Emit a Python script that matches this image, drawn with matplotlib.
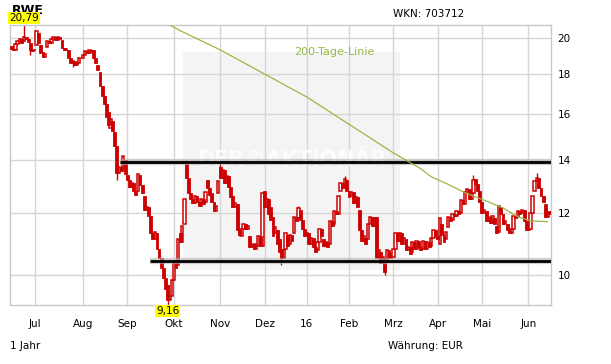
import matplotlib
matplotlib.use("Agg")
import matplotlib.pyplot as plt
import numpy as np
import pandas as pd
from matplotlib.patches import Rectangle
from matplotlib.ticker import FixedLocator, NullLocator

# trading calendar (Xetra), 16.06.2015 - 15.06.2016
first_day = "2015-06-16"
last_day = "2016-06-15"
holidays = ["2015-12-24", "2015-12-25", "2015-12-31", "2016-01-01",
            "2016-03-25", "2016-03-28"]
month_labels = ["Jul", "Aug", "Sep", "Okt", "Nov", "Dez", "16",
                "Feb", "Mrz", "Apr", "Mai", "Jun"]

opens = [
    19.55, 19.40, 19.35, 19.65, 19.80, 19.95, 19.85, 20.10, 19.95, 19.70,
    19.30, 19.30, 19.60, 20.30, 19.60, 19.20, 18.95, 19.50, 19.85, 19.70,
    19.95, 20.05, 19.90, 20.10, 19.90, 19.45, 19.30, 19.30, 18.85, 18.60,
    18.70, 18.50, 18.60, 18.90, 18.85, 19.05, 19.25, 19.15, 19.35, 19.30,
    18.90, 18.50, 18.10, 17.40, 16.90, 16.50, 16.10, 15.40, 15.70, 15.20,
    14.60, 13.50, 13.70, 13.70, 14.00, 13.40, 13.20, 12.95, 13.10, 12.80,
    12.80, 13.40, 13.00, 12.60, 12.10, 12.20, 11.90, 11.30, 11.10, 11.30,
    10.80, 10.50, 10.20, 9.90, 9.70, 9.30, 9.40, 9.85, 10.35, 10.30,
    11.30, 11.00, 11.60, 13.85, 13.30, 12.70, 12.50, 12.35, 12.60, 12.40,
    12.25, 12.50, 12.40, 13.20, 12.90, 12.70, 12.40, 12.05, 12.70, 13.70,
    13.30, 13.60, 13.10, 13.35, 12.95, 12.60, 12.20, 12.30, 11.40, 11.20,
    11.45, 11.60, 11.45, 11.20, 10.85, 10.95, 10.80, 10.90, 11.20, 10.90,
    12.80, 12.20, 12.50, 12.20, 11.85, 11.30, 11.40, 11.10, 10.80, 10.50,
    10.80, 11.25, 10.95, 11.25, 11.30, 11.85, 11.80, 12.10, 11.75, 11.45,
    11.20, 11.30, 10.95, 11.15, 10.85, 10.75, 11.00, 11.45, 11.10, 10.90,
    11.00, 10.95, 11.70, 11.60, 12.05, 11.95, 12.80, 13.10, 12.95, 13.20,
    12.80, 12.60, 12.75, 12.35, 12.55, 12.10, 11.40, 11.05, 11.15, 11.10,
    11.60, 11.85, 11.55, 11.85, 10.50, 10.70, 10.35, 10.50, 10.40, 10.75,
    10.50, 10.55, 10.80, 11.30, 11.05, 11.30, 10.95, 11.10, 10.75, 10.85,
    10.70, 11.00, 10.80, 11.05, 10.85, 10.80, 11.05, 10.80, 11.00, 10.90,
    11.15, 11.40, 11.20, 10.95, 11.60, 11.25, 11.10, 11.50, 11.85, 11.75,
    11.95, 11.90, 12.05, 12.00, 12.45, 12.30, 12.75, 12.85, 12.50, 12.70,
    13.25, 13.05, 12.80, 12.40, 12.00, 12.05, 11.70, 11.85, 11.65, 11.80,
    11.55, 11.35, 12.20, 11.95, 11.60, 11.60, 11.40, 11.30, 11.45, 11.90,
    11.85, 12.05, 12.00, 12.10, 11.70, 11.40, 11.45, 12.00, 12.80, 13.15,
    13.30, 12.90, 12.60, 12.30, 11.85, 12.05,
]
closes = [
    19.40, 19.30, 19.65, 19.85, 19.95, 19.75, 20.10, 19.95, 19.80, 19.30,
    19.25, 19.35, 20.40, 19.70, 19.15, 18.95, 19.10, 19.85, 19.70, 19.95,
    20.05, 19.90, 20.10, 19.95, 19.45, 19.30, 19.40, 18.85, 18.60, 18.70,
    18.50, 18.60, 18.90, 18.85, 19.05, 19.25, 19.15, 19.35, 19.25, 18.90,
    18.60, 18.20, 17.40, 16.90, 16.50, 15.90, 15.50, 15.80, 15.25, 14.60,
    13.50, 13.70, 13.55, 14.15, 13.45, 13.20, 12.95, 13.10, 12.80, 12.65,
    13.45, 13.00, 12.70, 12.10, 12.20, 11.90, 11.30, 11.10, 11.35, 10.80,
    10.50, 10.20, 9.90, 9.60, 9.30, 9.40, 9.85, 10.35, 10.20, 11.10,
    11.00, 11.55, 12.50, 13.30, 12.70, 12.50, 12.35, 12.60, 12.40, 12.25,
    12.50, 12.30, 12.75, 12.90, 12.65, 12.40, 12.05, 12.25, 13.15, 13.30,
    13.60, 13.10, 13.35, 12.95, 12.55, 12.20, 12.35, 11.40, 11.25, 11.45,
    11.60, 11.45, 11.55, 10.85, 10.95, 10.80, 10.95, 11.20, 10.90, 12.70,
    12.20, 12.50, 11.95, 11.75, 11.20, 11.50, 10.95, 10.70, 10.50, 10.75,
    11.30, 10.90, 11.25, 11.05, 11.85, 11.70, 12.15, 11.75, 11.45, 11.20,
    11.30, 10.95, 11.15, 10.85, 10.70, 11.00, 11.45, 11.20, 10.90, 11.00,
    10.85, 11.70, 11.55, 12.05, 11.95, 12.60, 13.10, 12.90, 13.25, 12.80,
    12.55, 12.75, 12.35, 12.55, 12.20, 11.40, 11.05, 11.20, 10.95, 11.60,
    11.85, 11.55, 11.80, 10.50, 10.75, 10.35, 10.55, 10.10, 10.75, 10.50,
    10.65, 10.80, 11.30, 11.05, 11.30, 10.95, 11.15, 10.75, 10.85, 10.65,
    11.00, 10.80, 11.05, 10.85, 10.75, 11.05, 10.80, 11.00, 10.85, 11.15,
    11.40, 11.20, 11.10, 11.80, 11.25, 11.00, 11.35, 11.85, 11.70, 11.95,
    11.90, 12.05, 11.95, 12.45, 12.30, 12.75, 12.85, 12.50, 12.70, 13.20,
    13.05, 12.80, 12.40, 12.00, 12.10, 11.70, 11.85, 11.65, 11.90, 11.60,
    11.30, 12.25, 11.95, 11.60, 11.70, 11.40, 11.30, 11.45, 11.90, 11.80,
    12.05, 11.95, 12.10, 11.70, 11.40, 11.50, 12.00, 12.60, 13.15, 13.30,
    12.90, 12.60, 12.40, 11.85, 12.00, 11.95,
]

# visible wicks (trading day index, high, low)
wick_days = [6, 9, 29, 50, 74, 83, 99, 128, 136, 158, 177, 219, 249]
wick_high = [20.79, 19.70, 18.70, 14.60, 9.70, 14.00, 13.95, 10.80, 12.25, 13.35, 10.50, 13.40, 13.50]
wick_low = [19.85, 19.05, 18.40, 13.20, 9.16, 13.30, 13.30, 10.30, 11.80, 12.95, 10.00, 12.70, 13.15]

# 200-Tage-Linie, read at a few days
sma_days = [70, 75, 80, 99, 119, 140, 160, 181, 194, 199, 206, 213, 218, 226, 233, 240, 246, 254]
sma_vals = [21.20, 20.80, 20.45, 19.33, 18.07, 16.84, 15.55, 14.30, 13.65, 13.33,
            13.08, 12.80, 12.63, 12.39, 12.17, 11.86, 11.72, 11.69]

# drawn trend lines: start day, level
resistance = (51.5, 13.92)
support = (65.7, 10.43)

max_day, max_val = 6, "20,79"
min_day, min_val = 74, "9,16"

RED = "#cc0000"
GREEN = "#99b844"
GRID = "#d6d6d6"


def trading_days() -> pd.DatetimeIndex:
    days = pd.bdate_range(first_day, last_day)
    return days[~days.isin(pd.to_datetime(holidays))]


def main() -> None:
    days = trading_days()
    n = len(days)
    x = np.arange(n)
    o = np.array(opens)
    c = np.array(closes)
    month_idx = [i for i in range(1, n) if days[i].month != days[i - 1].month]

    fig = plt.figure(figsize=(6.11, 3.64), dpi=100)
    ax = fig.add_axes([10.3 / 611, 1 - 305 / 364, 540.2 / 611, 280 / 364])
    ax.set_yscale("log")
    ax.set_xlim(-0.5, n - 0.5)
    ax.set_ylim(9.16, 20.79)

    # grid
    for m in month_idx:
        ax.axvline(m, color=GRID, lw=1, zorder=0.5)
    for v in [10, 12, 14, 16, 18, 20]:
        ax.axhline(v, color=GRID, lw=1, zorder=0.5)

    # watermark
    ax.add_patch(Rectangle((81.3, 10.16), 103, 19.2 - 10.16, facecolor="#f4f4f4",
                           edgecolor="none", zorder=0.3))
    ax.text(133, 14.0, "DER©AKTIONÄR", color="#fcfcfc", fontsize=15, fontweight="bold",
            ha="center", va="center", zorder=0.6)

    # candles
    up = c >= o
    bottom = np.minimum(o, c)
    height = np.abs(c - o)
    ax.vlines(wick_days, wick_low, wick_high, color=RED, lw=1, zorder=2)
    ax.bar(x[up], height[up], bottom=bottom[up], width=1.15, color="white",
           edgecolor=RED, linewidth=1.1, zorder=3)
    ax.bar(x[~up], height[~up], bottom=bottom[~up], width=1.35, color=RED,
           edgecolor=RED, linewidth=0.6, zorder=3.2)

    # trend lines
    for start, level in [resistance, support]:
        ax.plot([start, n - 0.5], [level, level], color="#b0b0b0", lw=4.5, alpha=0.6,
                solid_capstyle="butt", zorder=4)
        ax.plot([start, n - 0.5], [level, level], color="black", lw=2,
                solid_capstyle="butt", zorder=4.5)

    # 200-day line
    ax.plot(sma_days, sma_vals, color=GREEN, lw=0.9, zorder=5)
    ax.text(334 / 611, 1 - 52 / 364, "200-Tage-Linie", color=GREEN, fontsize=8,
            ha="center", va="center", transform=fig.transFigure)

    # axes styling
    for s in ax.spines.values():
        s.set_color("#c8c8c8")
        s.set_linewidth(1)
    ax.yaxis.tick_right()
    ax.yaxis.set_major_locator(FixedLocator([10, 12, 14, 16, 18, 20]))
    ax.yaxis.set_minor_locator(NullLocator())
    ax.set_yticklabels(["10", "12", "14", "16", "18", "20"])
    ax.set_xticks(month_idx)
    ax.set_xticklabels(month_labels)
    ax.tick_params(axis="both", length=0, labelsize=7.5, colors="black")
    ax.tick_params(axis="x", pad=10)
    ax.tick_params(axis="y", pad=5)

    # max / min labels
    box = dict(boxstyle="square,pad=0.1", facecolor="#ffff00", edgecolor="none")
    ax.annotate(max_val, (max_day, 20.79), xytext=(0, 1.5), textcoords="offset points",
                ha="center", va="bottom", fontsize=7.5, bbox=box, annotation_clip=False,
                zorder=10)
    ax.annotate(min_val, (min_day, 9.16), xytext=(0, -0.5), textcoords="offset points",
                ha="center", va="top", fontsize=7.5, bbox=box, annotation_clip=False,
                zorder=10)

    fig.text(12 / 611, 1 - 11 / 364, "RWE", fontsize=9, fontweight="bold",
             ha="left", va="center", zorder=-1)
    fig.text(393 / 611, 1 - 14 / 364, "WKN: 703712", fontsize=7.5, ha="left", va="center")
    fig.text(10 / 611, 1 - 346 / 364, "1 Jahr", fontsize=7.5, ha="left", va="center")
    fig.text(388 / 611, 1 - 346 / 364, "Währung: EUR", fontsize=7.5, ha="left", va="center")

    fig.savefig("out.png", dpi=100)
    plt.close(fig)


if __name__ == "__main__":
    main()
